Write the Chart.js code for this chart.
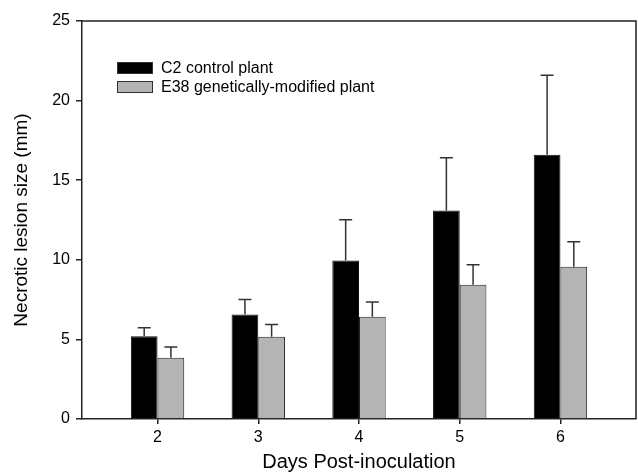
<!DOCTYPE html>
<html>
<head>
<meta charset="utf-8">
<script src="https://cdn.jsdelivr.net/npm/chart.js@4/dist/chart.umd.min.js"></script>
<style>
  html, body { margin: 0; padding: 0; background: #fff; }
  #wrap { width: 638px; height: 474px; }
</style>
</head>
<body>
<div id="wrap"><canvas id="lesionChart"></canvas></div>
<script>
const days = [2, 3, 4, 5, 6];
const c2Means = [5.2, 6.57, 9.96, 13.1, 16.6];
const c2Errors = [0.53, 0.94, 2.56, 3.31, 5.0];
const e38Means = [3.85, 5.17, 6.43, 8.44, 9.57];
const e38Errors = [0.67, 0.77, 0.92, 1.25, 1.57];
const yTicks = [0, 5, 10, 15, 20, 25];

const FONT = '"Liberation Sans", Arial, sans-serif';
const INK = '#222';

// error bars (upper only) drawn on top of each bar
const errorBars = {
    id: 'errorBars',
    afterDatasetsDraw(chart) {
        const ctx = chart.ctx;
        const y = chart.scales.y;
        ctx.save();
        ctx.strokeStyle = '#333';
        ctx.lineWidth = 1.5;
        chart.data.datasets.forEach((ds, i) => {
            const meta = chart.getDatasetMeta(i);
            meta.data.forEach((bar, j) => {
                const top = y.getPixelForValue(ds.data[j].y + ds.errors[j]);
                ctx.beginPath();
                ctx.moveTo(bar.x, bar.y);
                ctx.lineTo(bar.x, top);
                ctx.moveTo(bar.x - 6.5, top);
                ctx.lineTo(bar.x + 6.5, top);
                ctx.stroke();
            });
        });
        ctx.restore();
    }
};

// frame around plot + legend inside plot area
const frameAndLegend = {
    id: 'frameAndLegend',
    afterDraw(chart) {
        const ctx = chart.ctx;
        const a = chart.chartArea;
        ctx.save();
        ctx.strokeStyle = INK;
        ctx.lineWidth = 1.5;
        ctx.beginPath();
        ctx.moveTo(a.left, a.top);
        ctx.lineTo(a.right, a.top);
        ctx.lineTo(a.right, a.bottom);
        ctx.stroke();

        ctx.font = '16px ' + FONT;
        ctx.textBaseline = 'middle';
        chart.data.datasets.forEach((ds, i) => {
            const x = a.left + 35;
            const yy = a.top + 41 + i * 19;
            ctx.fillStyle = ds.backgroundColor;
            ctx.fillRect(x, yy, 36, 12);
            ctx.strokeStyle = '#333';
            ctx.lineWidth = 1;
            ctx.strokeRect(x + 0.5, yy + 0.5, 35, 11);
            ctx.fillStyle = '#000';
            ctx.fillText(ds.label, x + 44, yy + 6.5);
        });
        ctx.restore();
    }
};

const ctx = document.getElementById('lesionChart').getContext('2d');

const lesionChart = new Chart(ctx, {
    type: 'bar',
    data: {
        datasets: [{
            label: 'C2 control plant',
            data: days.map((d, i) => ({ x: d, y: c2Means[i] })),
            errors: c2Errors,
            backgroundColor: '#000000',
            borderColor: '#111',
            borderWidth: 1
        }, {
            label: 'E38 genetically-modified plant',
            data: days.map((d, i) => ({ x: d, y: e38Means[i] })),
            errors: e38Errors,
            backgroundColor: '#b4b4b4',
            borderColor: '#222',
            borderWidth: 1
        }]
    },
    options: {
        responsive: true,
        maintainAspectRatio: false,
        animation: false,
        categoryPercentage: 0.53,
        barPercentage: 1.0,
        layout: { padding: { left: 0, right: 2, top: 21, bottom: 0 } },
        plugins: {
            legend: { display: false },
            tooltip: { enabled: false }
        },
        scales: {
            x: {
                type: 'linear',
                offset: false,
                min: 1.25,
                max: 6.75,
                afterBuildTicks: scale => { scale.ticks = days.map(v => ({ value: v })); },
                afterFit: scale => { scale.height = 55; },
                grid: { display: true, offset: false, drawOnChartArea: false, drawTicks: true, tickLength: 5, color: INK, lineWidth: 1.5 },
                border: { display: true, color: INK, width: 1.5 },
                ticks: { color: '#000', font: { family: FONT, size: 16 }, padding: 4, maxRotation: 0 },
                title: {
                    display: true,
                    text: 'Days Post-inoculation',
                    color: '#000',
                    font: { family: FONT, size: 20 },
                    padding: { top: 0, bottom: 0 }
                }
            },
            y: {
                min: 0,
                max: 25,
                afterBuildTicks: scale => { scale.ticks = yTicks.map(v => ({ value: v })); },
                afterFit: scale => { scale.width = 82; },
                grid: { display: true, drawOnChartArea: false, drawTicks: true, tickLength: 6, color: INK, lineWidth: 1.5 },
                border: { display: true, color: INK, width: 1.5 },
                ticks: { color: '#000', font: { family: FONT, size: 16 }, padding: 6 },
                title: {
                    display: true,
                    text: 'Necrotic lesion size (mm)',
                    color: '#000',
                    font: { family: FONT, size: 19 },
                    padding: { top: 10, bottom: 0 }
                }
            }
        }
    },
    plugins: [errorBars, frameAndLegend]
});
</script>
</body>
</html>
